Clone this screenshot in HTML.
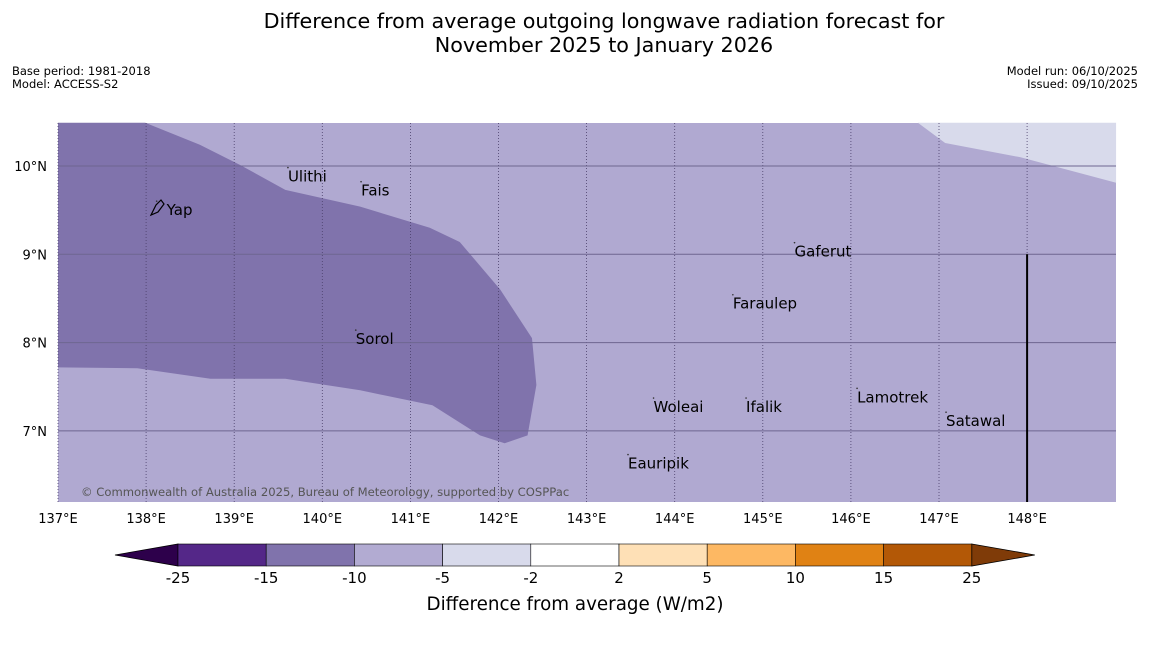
<!DOCTYPE html>
<html><head><meta charset="utf-8"><style>
body{margin:0;background:#fff;font-family:"DejaVu Sans","Liberation Sans",sans-serif;}
svg text{font-family:"DejaVu Sans","Liberation Sans",sans-serif;}
</style></head><body>
<svg id="chart" width="1150" height="644" viewBox="0 0 1150 644" xmlns="http://www.w3.org/2000/svg">
<rect width="1150" height="644" fill="#fff"/>
<text x="604" y="28" font-size="20.7" text-anchor="middle">Difference from average outgoing longwave radiation forecast for</text>
<text x="604" y="52" font-size="20.7" text-anchor="middle">November 2025 to January 2026</text>
<text x="12" y="75" font-size="11.5">Base period: 1981-2018</text>
<text x="12" y="88" font-size="11.5">Model: ACCESS-S2</text>
<text x="1138" y="75" font-size="11.5" text-anchor="end">Model run: 06/10/2025</text>
<text x="1138" y="88" font-size="11.5" text-anchor="end">Issued: 09/10/2025</text>
<g id="map"></g>
<g id="cbar"></g>
</svg>
<script>
const lonTicks=[137,138,139,140,141,142,143,144,145,146,147,148];
const latTicks=[10,9,8,7];
const darkLon=[137,137.99,138.61,139.07,139.58,140.43,141.22,141.56,142.02,142.38,142.43,142.33,142.07,141.79,141.25,140.43,139.58,138.73,137.9,137];
const darkLat=[10.49,10.49,10.24,10.01,9.73,9.54,9.30,9.14,8.60,8.05,7.52,6.95,6.86,6.95,7.29,7.46,7.59,7.59,7.71,7.72];
const lightLon=[146.76,147.07,147.92,149.01,149.01];
const lightLat=[10.49,10.26,10.10,9.81,10.49];
const places=["Yap","Ulithi","Fais","Gaferut","Faraulep","Sorol","Woleai","Ifalik","Lamotrek","Satawal","Eauripik"];
const placeLon=[138.12,139.61,140.44,145.36,144.66,140.38,143.76,144.81,146.07,147.08,143.47];
const placeLat=[9.5,9.88,9.72,9.03,8.44,8.04,7.27,7.27,7.38,7.11,6.63];
const cbLevels=["-25","-15","-10","-5","-2","2","5","10","15","25"];
const cbColors=["#542788","#8073ac","#b2abd2","#d8daeb","#ffffff","#fee0b6","#fdb863","#e08214","#b35806"];
const NS="http://www.w3.org/2000/svg";
const x=lon=>58+(lon-137)*88.1;
const y=lat=>166-(lat-10)*88.3;
function mk(tag,attrs,parent){const e=document.createElementNS(NS,tag);for(const k in attrs)e.setAttribute(k,attrs[k]);parent.appendChild(e);return e;}
const map=document.getElementById('map');
let bg=mk('rect',{x:58,y:123,width:1058,height:379,fill:'#b0a9d1'},map);


let dk=mk('polygon',{points:darkLon.map((l,i)=>x(l)+','+y(darkLat[i])).join(' '),fill:'#8073ac'},map);


let lt=mk('polygon',{points:lightLon.map((l,i)=>x(l)+','+y(lightLat[i])).join(' '),fill:'#d8daeb'},map);


lonTicks.forEach(l=>{
 let g=mk('line',{x1:x(l),x2:x(l),y1:123,y2:502,stroke:'#4a3f6a','stroke-width':0.8,'stroke-dasharray':'1,2'},map);
 
 
 let t=mk('text',{x:x(l),y:523,'font-size':13,'text-anchor':'middle'},map);t.textContent=l+'°E';
 
 
});
latTicks.forEach(l=>{
 let g=mk('line',{x1:58,x2:1116,y1:y(l),y2:y(l),stroke:'#6e6690','stroke-width':1},map);
 
 
 let t=mk('text',{x:47,y:y(l)+5,'font-size':13,'text-anchor':'end'},map);t.textContent=l+'°N';
 
 
});
let vl=mk('line',{x1:x(148),x2:x(148),y1:y(9),y2:502,stroke:'#000','stroke-width':2},map);


places.forEach((p,i)=>{
 let d=mk('circle',{cx:x(placeLon[i]),cy:y(placeLat[i])-9,r:0.8,fill:'#333'},map);
 
 
 let t=mk('text',{x:x(placeLon[i])+(p==='Yap'?10:0),y:y(placeLat[i])+5,'font-size':15},map);t.textContent=p;
 
 
});
let yi=mk('path',{d:'M151,215 L156,205 L161,200 L164,204 L158,212 Z',fill:'none',stroke:'#000','stroke-width':1.2},map);


let c=mk('text',{x:81,y:496,'font-size':11.6,fill:'#555'},map);c.textContent='© Commonwealth of Australia 2025, Bureau of Meteorology, supported by COSPPac';


const cb=document.getElementById('cbar');
const cx0=178,cw=88.2,cy0=544,ch=22;
let tl=mk('polygon',{points:`115,555 ${cx0},${cy0} ${cx0},${cy0+ch}`,fill:'#2d004b',stroke:'#000','stroke-width':0.8},cb);


cbColors.forEach((col,i)=>{
 let r=mk('rect',{x:cx0+i*cw,y:cy0,width:cw,height:ch,fill:col,stroke:'#000','stroke-width':0.6},cb);
 
 
});
let xe=cx0+cbColors.length*cw;
let tr=mk('polygon',{points:`${xe},${cy0} ${xe+63},555 ${xe},${cy0+ch}`,fill:'#7f3b08',stroke:'#000','stroke-width':0.8},cb);


cbLevels.forEach((l,i)=>{
 let t=mk('text',{x:cx0+i*cw,y:583,'font-size':15,'text-anchor':'middle'},cb);t.textContent=l;
 
 
});
let ct=mk('text',{x:575,y:610,'font-size':18.3,'text-anchor':'middle'},cb);ct.textContent='Difference from average (W/m2)';


</script>
</body></html>
